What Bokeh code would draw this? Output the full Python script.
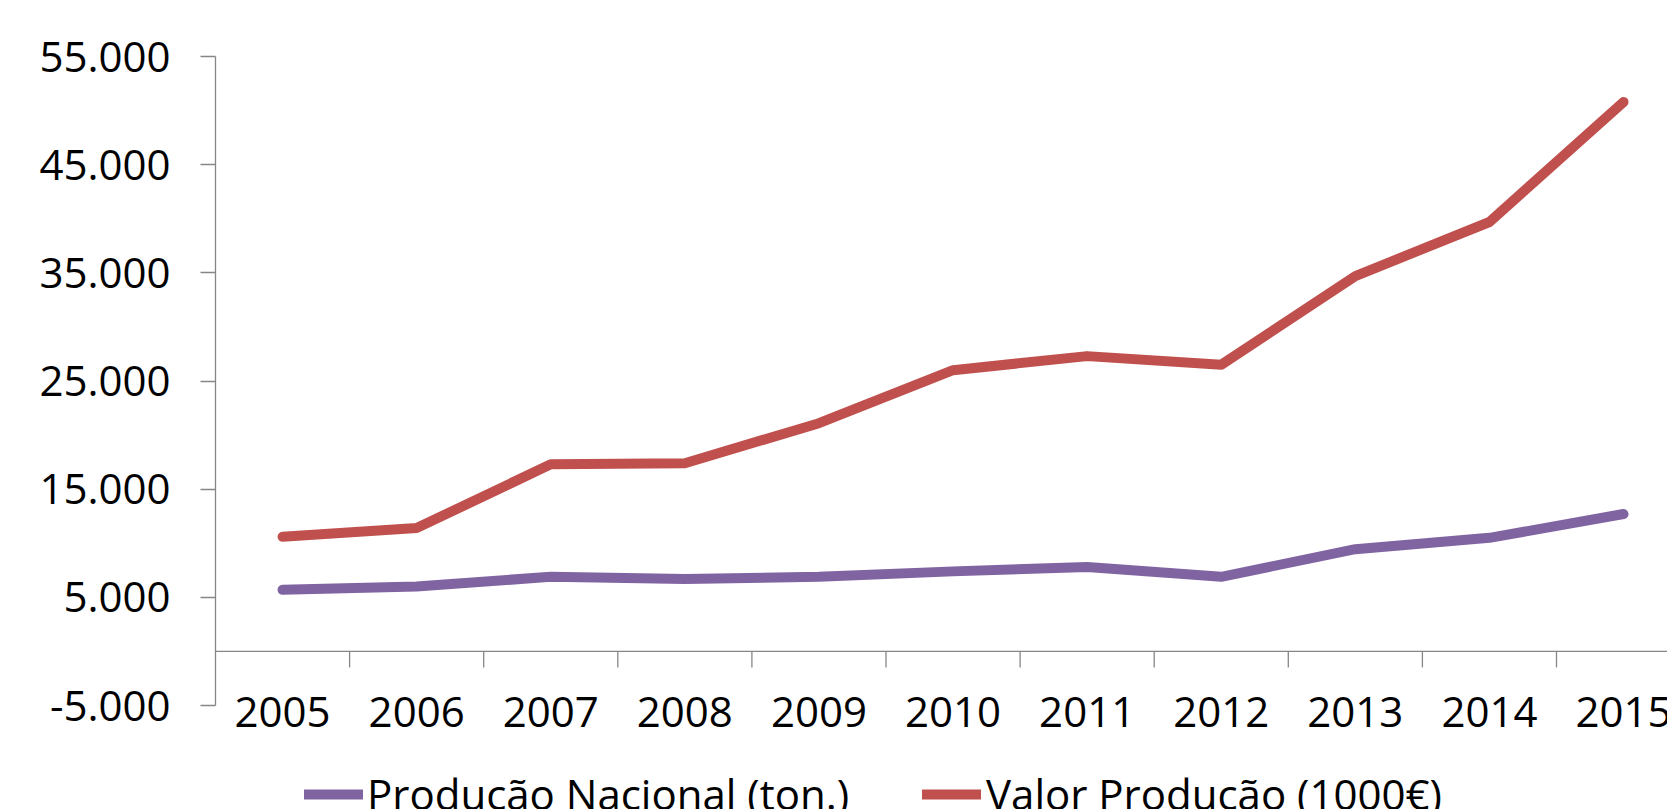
from bokeh.plotting import figure
from bokeh.models import Range1d, FixedTicker, Span, Legend, LegendItem
from bokeh.core.properties import value
from bokeh.embed import file_html
from bokeh.resources import INLINE

# ---- data ----
years = ["2005", "2006", "2007", "2008", "2009", "2010", "2011", "2012", "2013", "2014", "2015"]
producao_nacional = [5700, 6000, 6900, 6700, 6900, 7400, 7800, 6900, 9450, 10500, 12700]
valor_producao = [10600, 11400, 17300, 17400, 21100, 26000, 27300, 26500, 34700, 39700, 50800]
series_names = ["Produção Nacional (ton.)", "Valor Produção (1000€)"]
y_ticks = [-5000, 5000, 15000, 25000, 35000, 45000, 55000]
y_tick_labels = ["-5.000", "5.000", "15.000", "25.000", "35.000", "45.000", "55.000"]

# ---- style / layout ----
FONT = "Open Sans"
FONT_SIZE = "42px"
AXIS_COLOR = "#868686"
PURPLE = "#8064A2"
RED = "#C0504D"
W, H = 1667, 809
FRAME_LEFT, FRAME_TOP = 215, 56
PX_PER_Y = 649 / 60000.0
PX_PER_CAT = 134.1
TICK_LEN_PX = 16

frame_w = W - FRAME_LEFT
frame_h = H - FRAME_TOP
y_end = y_ticks[-1]
y_start = y_end - frame_h / PX_PER_Y
x_end = frame_w / PX_PER_CAT

xs = [i + 0.5 for i in range(len(years))]
boundaries = [i + 1.0 for i in range(len(years) - 1)]

p = figure(width=W, height=H, output_backend="svg", toolbar_location=None,
           x_range=Range1d(0, x_end), y_range=Range1d(y_start, y_end),
           x_axis_location=None,
           min_border_left=FRAME_LEFT, min_border_top=FRAME_TOP,
           min_border_bottom=0, min_border_right=0)
p.outline_line_color = None
p.grid.visible = False
p.background_fill_color = "white"
p.border_fill_color = "white"

ax = p.yaxis[0]
ax.ticker = FixedTicker(ticks=y_ticks)
ax.major_label_overrides = {t: l for t, l in zip(y_ticks, y_tick_labels)}
ax.bounds = (y_ticks[0], y_ticks[-1])
ax.axis_line_color = AXIS_COLOR
ax.axis_line_width = 1.3
ax.major_tick_line_color = AXIS_COLOR
ax.major_tick_line_width = 1.3
ax.major_tick_in = 0
ax.major_tick_out = 15
ax.minor_tick_line_color = None
ax.major_label_text_font = FONT
ax.major_label_text_font_size = FONT_SIZE
ax.major_label_text_color = "black"
ax.major_label_standoff = 30

# horizontal category axis crossing at 0
p.add_layout(Span(location=0, dimension="width", line_color=AXIS_COLOR, line_width=1.3))
tick_len = TICK_LEN_PX / PX_PER_Y
p.segment(x0=boundaries, y0=[0] * len(boundaries), x1=boundaries,
          y1=[-tick_len] * len(boundaries), line_color=AXIS_COLOR, line_width=1.3)

p.text(x=xs, y=[0] * len(xs), text=years, text_font=value(FONT),
       text_font_size=FONT_SIZE, text_align="center", text_baseline="middle",
       y_offset=61, text_color="black")

r_p = p.line(xs, producao_nacional, line_color=PURPLE, line_width=10,
             line_cap="round", line_join="round")
r_v = p.line(xs, valor_producao, line_color=RED, line_width=10,
             line_cap="round", line_join="round")


def make_legend(name, rend, loc, standoff):
    return Legend(items=[LegendItem(label=name, renderers=[rend])], location=loc,
                  orientation="horizontal", border_line_color=None,
                  background_fill_alpha=0, padding=0, margin=0,
                  glyph_width=59, glyph_height=20, label_standoff=standoff,
                  label_text_font=FONT, label_text_font_size=FONT_SIZE,
                  label_text_color="black")


p.add_layout(make_legend(series_names[0], r_p, (89, -13), 4))
p.add_layout(make_legend(series_names[1], r_v, (707, -13), 5))

open("out.html", "w").write(file_html(p, INLINE))
